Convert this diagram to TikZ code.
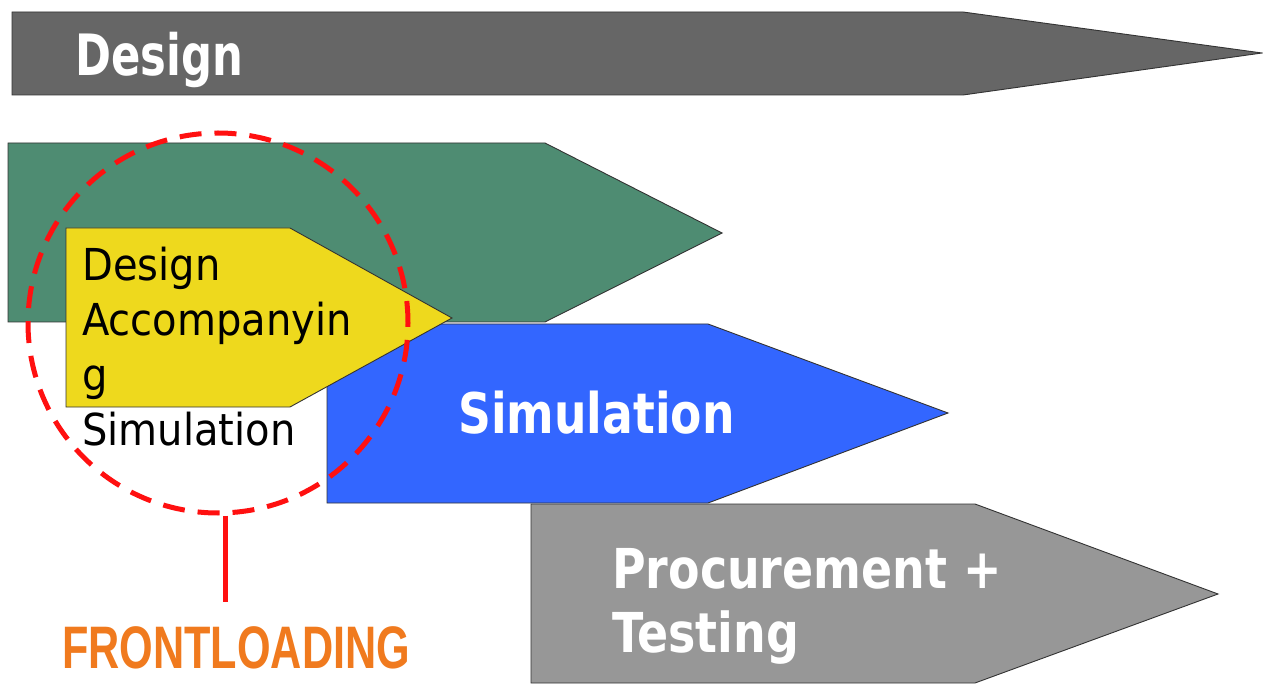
\documentclass[tikz,border=0pt]{standalone}
\usepackage{fontspec}
\setmainfont{DejaVu Sans}
\newfontfamily\bfamA{DejaVu Sans}[FakeStretch=0.76]
\newfontfamily\bfamB{DejaVu Sans}[FakeStretch=0.815]
\newfontfamily\bfamC{DejaVu Sans}[FakeStretch=0.835]
\newfontfamily\rfam{DejaVu Sans}[FakeStretch=0.91]
\newfontfamily\ffam{Liberation Sans}[FakeStretch=0.72]
\definecolor{dgray}{HTML}{666666}
\definecolor{mgreen}{HTML}{4E8C72}
\definecolor{myellow}{HTML}{EED91D}
\definecolor{mblue}{HTML}{3366FF}
\definecolor{lgray}{HTML}{979797}
\definecolor{edge}{HTML}{333333}
\definecolor{fred}{HTML}{FF1010}
\definecolor{forange}{HTML}{F07A1E}
\tikzset{
  phase/.style={draw=edge, line width=0.9pt, line join=miter},
  whitelabel/.style={text=white, inner sep=0pt},
}
\begin{document}
\begin{tikzpicture}[x=1pt,y=-1pt]
\useasboundingbox (0,0) rectangle (1263,684);
% Design
\fill[phase, fill=dgray] (12,12) -- (963,12) -- (1262,53) -- (963,95) -- (12,95) -- cycle;
\node[whitelabel, anchor=base west, font=\bfamA\bfseries\fontsize{57}{60}\selectfont] (design) at (75,76) {Design};
% green
\fill[phase, fill=mgreen] (8,143) -- (545,143) -- (722,233) -- (545,322) -- (8,322) -- cycle;
% gray procurement
\fill[phase, fill=lgray] (531,504) -- (975,504) -- (1218,594) -- (975,683) -- (531,683) -- cycle;
\node[whitelabel, anchor=north west, align=left, font=\bfamC\bfseries\fontsize{55}{64}\selectfont] (proc) at (612,548) {Procurement +\\Testing};
% blue simulation
\fill[phase, fill=mblue] (327,324) -- (708,324) -- (948,413) -- (708,503) -- (327,503) -- cycle;
\node[whitelabel, anchor=base west, font=\bfamB\bfseries\fontsize{56}{60}\selectfont] (sim) at (458,433) {Simulation};
% yellow
\fill[phase, fill=myellow] (66,228) -- (290,228) -- (452,318) -- (290,407) -- (66,407) -- cycle;
\node[inner sep=0pt, anchor=north west, align=left, font=\rfam\fontsize{44}{55}\selectfont] (das) at (82,247) {Design\\Accompanyin\\g\\Simulation};
% frontloading circle
\node[draw=fred, line width=5pt, dash pattern=on 22pt off 13pt, circle, minimum size=380pt, inner sep=0pt] (circ) at (218,323) {};
\coordinate (lineend) at (225,602);
\draw[fred, line width=5pt] (circ.south -| lineend) -- (lineend);
\node[inner sep=0pt, anchor=base west, text=forange, font=\ffam\bfseries\fontsize{60}{60}\selectfont] (front) at (62,668) {FRONTLOADING};
\end{tikzpicture}
\end{document}
